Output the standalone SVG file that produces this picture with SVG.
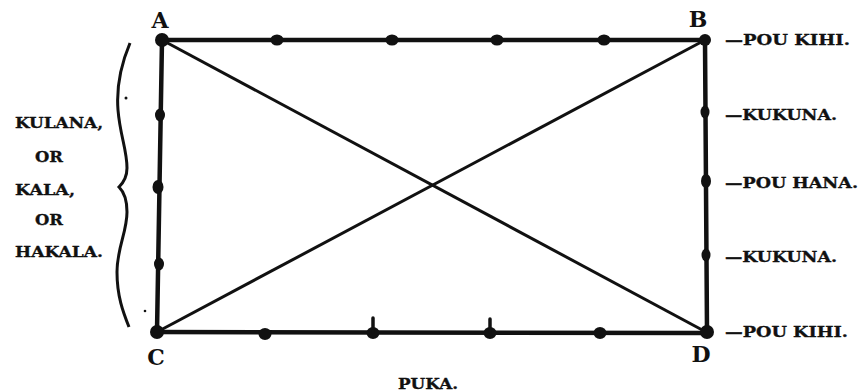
<svg xmlns="http://www.w3.org/2000/svg" width="862" height="392" viewBox="0 0 862 392">
<style>
.lbl{font-family:"DejaVu Serif","Liberation Serif",serif;font-weight:bold;font-size:14px;fill:#111;stroke:#111;stroke-width:0.3}
.corner{font-family:"DejaVu Serif","Liberation Serif",serif;font-weight:bold;font-size:22px;fill:#111}
.edge{stroke:#111;stroke-width:4.5;fill:none;stroke-linecap:round}
.diag{stroke:#111;stroke-width:3;fill:none}
.dot{fill:#111}
</style>
<rect width="862" height="392" fill="#fff"/>
<g id="connectors">
  <line class="diag" x1="162" y1="40" x2="706" y2="332"/>
  <line class="diag" x1="705" y1="40" x2="157" y2="332"/>
  <line class="edge" x1="162" y1="40" x2="705" y2="40"/>
  <line class="edge" x1="162" y1="40" x2="157" y2="332"/>
  <line class="edge" x1="705" y1="40" x2="707" y2="332"/>
  <line class="edge" x1="157" y1="332" x2="707" y2="333"/>
  <ellipse class="dot" cx="277" cy="40" rx="6.5" ry="5.5"/>
  <ellipse class="dot" cx="392" cy="40" rx="6.5" ry="5.5"/>
  <ellipse class="dot" cx="497" cy="40" rx="6.5" ry="5.5"/>
  <ellipse class="dot" cx="604" cy="40" rx="6.5" ry="5.5"/>
  <ellipse class="dot" cx="160" cy="115" rx="5" ry="6.5"/>
  <ellipse class="dot" cx="158" cy="187" rx="5.5" ry="7"/>
  <ellipse class="dot" cx="159" cy="264" rx="5" ry="6.5"/>
  <ellipse class="dot" cx="705" cy="112" rx="4.5" ry="6.5"/>
  <ellipse class="dot" cx="706" cy="181" rx="5" ry="7"/>
  <ellipse class="dot" cx="706" cy="255" rx="4.5" ry="6.5"/>
  <ellipse class="dot" cx="265" cy="334" rx="6.5" ry="6"/>
  <ellipse class="dot" cx="373" cy="333" rx="6.5" ry="6"/>
  <line stroke="#111" stroke-width="3.5" stroke-linecap="round" x1="373" y1="318" x2="373" y2="332"/>
  <ellipse class="dot" cx="490" cy="333" rx="6.5" ry="6"/>
  <line stroke="#111" stroke-width="3.5" stroke-linecap="round" x1="490" y1="319" x2="490" y2="332"/>
  <ellipse class="dot" cx="600" cy="333" rx="6.5" ry="6"/>
</g>
<g id="corner-A">
  <circle class="dot" cx="162" cy="40" r="7"/>
  <text class="corner" x="160" y="28" text-anchor="middle">A</text>
</g>
<g id="corner-B">
  <circle class="dot" cx="705" cy="40" r="6"/>
  <text class="corner" x="698" y="27" text-anchor="middle">B</text>
</g>
<g id="corner-C">
  <circle class="dot" cx="157" cy="332" r="7"/>
  <text class="corner" x="156" y="365" text-anchor="middle">C</text>
</g>
<g id="corner-D">
  <circle class="dot" cx="707" cy="332" r="7"/>
  <text class="corner" x="701" y="362" text-anchor="middle">D</text>
</g>
<g id="brace">
  <path d="M130,43 C122,62 116,85 118,110 C120,135 127,150 127,168 C127,178 123,183 119,187 C123,191 127,198 127,212 C127,232 117,248 117,272 C117,296 123,312 129,327" fill="none" stroke="#111" stroke-width="3"/>
  <circle class="dot" cx="126" cy="98" r="1.5"/>
  <circle class="dot" cx="145" cy="311" r="1.3"/>
</g>
<g id="left-labels">
  <text class="lbl" x="15" y="128" textLength="88" lengthAdjust="spacingAndGlyphs">KULANA,</text>
  <text class="lbl" x="35" y="162" textLength="28" lengthAdjust="spacingAndGlyphs">OR</text>
  <text class="lbl" x="15" y="195" textLength="60" lengthAdjust="spacingAndGlyphs">KALA,</text>
  <text class="lbl" x="35" y="225" textLength="28" lengthAdjust="spacingAndGlyphs">OR</text>
  <text class="lbl" x="15" y="257" textLength="88" lengthAdjust="spacingAndGlyphs">HAKALA.</text>
</g>
<g id="right-labels">
  <text class="lbl" x="725" y="45" textLength="125" lengthAdjust="spacingAndGlyphs">—POU KIHI.</text>
  <text class="lbl" x="725" y="120" textLength="112" lengthAdjust="spacingAndGlyphs">—KUKUNA.</text>
  <text class="lbl" x="725" y="188" textLength="133" lengthAdjust="spacingAndGlyphs">—POU HANA.</text>
  <text class="lbl" x="725" y="262" textLength="112" lengthAdjust="spacingAndGlyphs">—KUKUNA.</text>
  <text class="lbl" x="725" y="337" textLength="123" lengthAdjust="spacingAndGlyphs">—POU KIHI.</text>
</g>
<g id="bottom-label">
  <text class="lbl" x="398" y="389" textLength="60" lengthAdjust="spacingAndGlyphs">PUKA.</text>
</g>
</svg>
